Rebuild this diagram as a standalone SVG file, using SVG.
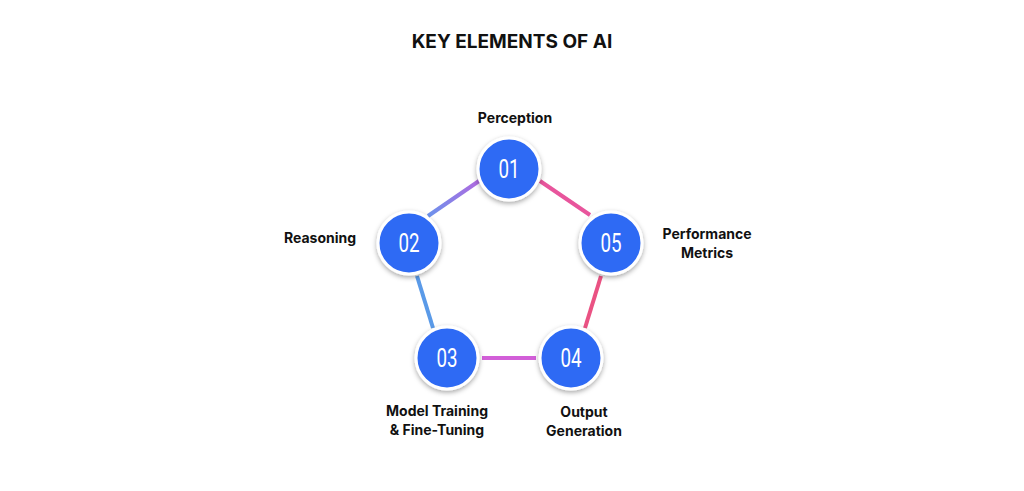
<svg xmlns="http://www.w3.org/2000/svg" width="1024" height="491" viewBox="0 0 1024 491">
<defs>
<linearGradient id="g12" x1="479" y1="181" x2="428" y2="216" gradientUnits="userSpaceOnUse"><stop offset="0" stop-color="#b06ae0"/><stop offset="1" stop-color="#6b92ec"/></linearGradient>
<filter id="sh" x="-30%" y="-30%" width="160%" height="160%"><feDropShadow dx="0" dy="2" stdDeviation="2.5" flood-color="#000" flood-opacity="0.35"/></filter>
<style>
.c{fill:#2e6af4;stroke:#fff;stroke-width:3;filter:url(#sh)}
.n{font-family:Roboto,"DejaVu Sans",sans-serif;font-size:25px;fill:#fff;text-anchor:middle}
.l{font-family:Inter,"Open Sans",sans-serif;font-weight:700;font-size:14px;fill:#111}
.e{stroke-width:4;fill:none}
</style>
</defs>
<rect width="1024" height="491" fill="#fff"/>
<text x="512" y="48" text-anchor="middle" font-family="Inter,'Open Sans',sans-serif" font-weight="700" font-size="19" fill="#111">KEY ELEMENTS OF AI</text>
<g id="connectors">
<line class="e" x1="479" y1="181" x2="428" y2="216" stroke="url(#g12)"/>
<line class="e" x1="540" y1="181" x2="590" y2="215" stroke="#e8559c"/>
<line class="e" x1="601" y1="276" x2="585" y2="328" stroke="#ea5283"/>
<line class="e" x1="417" y1="276" x2="433" y2="328" stroke="#5a9ae8"/>
<line class="e" x1="482" y1="358" x2="536" y2="358" stroke="#d25fd8"/>
</g>
<g id="n1"><circle class="c" cx="509" cy="169" r="31"/><text class="n" x="509" y="178" transform="translate(509 0) scale(0.75 1) translate(-509 0)">01</text><text class="l" x="515" y="123" text-anchor="middle">Perception</text></g>
<g id="n2"><circle class="c" cx="409" cy="243" r="31"/><text class="n" x="409" y="252" transform="translate(409 0) scale(0.75 1) translate(-409 0)">02</text><text class="l" x="320" y="243" text-anchor="middle">Reasoning</text></g>
<g id="n5"><circle class="c" cx="611" cy="243" r="31"/><text class="n" x="611" y="252" transform="translate(611 0) scale(0.75 1) translate(-611 0)">05</text><text class="l" x="707" y="239" text-anchor="middle">Performance</text><text class="l" x="707" y="258" text-anchor="middle">Metrics</text></g>
<g id="n3"><circle class="c" cx="447" cy="358" r="31"/><text class="n" x="447" y="367" transform="translate(447 0) scale(0.75 1) translate(-447 0)">03</text><text class="l" x="437" y="416" text-anchor="middle">Model Training</text><text class="l" x="437" y="435" text-anchor="middle">&amp; Fine-Tuning</text></g>
<g id="n4"><circle class="c" cx="571" cy="358" r="31"/><text class="n" x="571" y="367" transform="translate(571 0) scale(0.75 1) translate(-571 0)">04</text><text class="l" x="584" y="417" text-anchor="middle">Output</text><text class="l" x="584" y="436" text-anchor="middle">Generation</text></g>
</svg>
